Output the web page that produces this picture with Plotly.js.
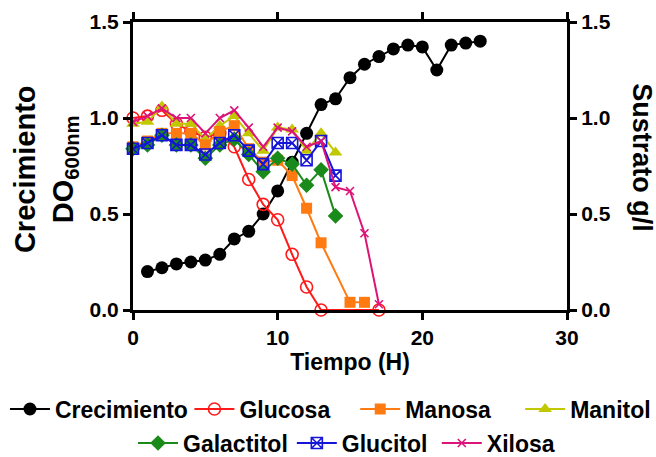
<!DOCTYPE html>
<html>
<head>
<meta charset="utf-8">
<script src="https://cdn.plot.ly/plotly-3.0.1.min.js"></script>
<style>html,body{margin:0;padding:0;background:#fff;}#chart{width:656px;height:457px;}</style>
</head>
<body>
<div id="chart"></div>
<script>
// ---- data ----
var growthX = [1,2,3,4,5,6,7,8,9,10,11,12,13,14,15,16,17,18,19,20,21,22,23,24];
var growthY = [0.20,0.22,0.24,0.25,0.26,0.29,0.37,0.41,0.50,0.62,0.77,0.92,1.07,1.10,1.21,1.28,1.32,1.36,1.38,1.37,1.25,1.38,1.39,1.40];

var glucosaX = [0,1,2,3,4,5,6,7,8,9,10,11,12,13,17];
var glucosaY = [1.00,1.01,1.04,0.97,0.93,0.90,0.92,0.85,0.68,0.55,0.47,0.29,0.12,0.00,0.00];

var manosaX = [0,1,2,3,4,5,6,7,8,9,10,11,12,13,15,16];
var manosaY = [0.85,0.88,0.92,0.92,0.92,0.86,0.93,0.96,0.84,0.77,0.78,0.70,0.53,0.35,0.04,0.04];

var manitolX = [0,1,2,3,4,5,6,7,8,9,10,11,12,13,14];
var manitolY = [0.97,0.98,1.06,0.97,0.97,0.89,0.96,1.01,0.92,0.83,0.95,0.94,0.83,0.92,0.82];

var galactitolX = [0,1,2,3,4,5,6,7,8,9,10,11,12,13,14];
var galactitolY = [0.84,0.86,0.91,0.86,0.86,0.79,0.86,0.89,0.81,0.72,0.79,0.76,0.65,0.73,0.49];

var glucitolX = [0,1,2,3,4,5,6,7,8,9,10,11,12,13,14];
var glucitolY = [0.84,0.87,0.91,0.86,0.86,0.81,0.87,0.91,0.83,0.76,0.87,0.87,0.78,0.88,0.70];

var xilosaX = [0,1,2,3,4,5,6,7,8,9,10,11,12,13,14,15,16,17];
var xilosaY = [0.98,1.01,1.05,1.00,1.00,0.92,1.00,1.04,0.95,0.85,0.95,0.93,0.85,0.88,0.64,0.62,0.40,0.03];

var xTicks = [0,10,20,30];
var yTicks = [0,0.5,1.0,1.5];
var yTickText = ['0.0','0.5','1.0','1.5'];

// ---- styling ----
var FONT = 'Liberation Sans, Arial, Helvetica, sans-serif';
var C = {
  crec: '#000000', glucosa: '#ff1a1a', manosa: '#ff7a10', manitol: '#c2c800',
  galactitol: '#1a8a1a', glucitol: '#1515d8', xilosa: '#dc1478'
};

function tr(name, x, y, color, symbol, size, legend, yaxis, lw) {
  return {
    type: 'scatter', mode: 'lines+markers', name: name, x: x, y: y,
    yaxis: yaxis, legend: legend, cliponaxis: false,
    line: {color: color, width: 2},
    marker: {symbol: symbol, size: size, color: color, line: {color: color, width: lw || 0}}
  };
}

var data = [
  tr('Glucosa', glucosaX, glucosaY, C.glucosa, 'circle-open', 12, 'legend2', 'y2', 1.6),
  tr('Manitol', manitolX, manitolY, C.manitol, 'triangle-up', 12, 'legend4', 'y2'),
  tr('Manosa', manosaX, manosaY, C.manosa, 'square', 11, 'legend3', 'y2'),
  tr('Galactitol', galactitolX, galactitolY, C.galactitol, 'diamond', 12, 'legend5', 'y2'),
  tr('Glucitol', glucitolX, glucitolY, C.glucitol, 'square-x-open', 11, 'legend6', 'y2', 1.6),
  tr('Xilosa', xilosaX, xilosaY, C.xilosa, 'x-thin-open', 8, 'legend7', 'y2', 1.6),
  tr('Crecimiento', growthX, growthY, C.crec, 'circle', 13, 'legend', 'y')
];

var legFont = {family: FONT, size: 23, color: '#000', weight: 'bold'};
function leg(x, y) {
  return {x: x, y: y, xanchor: 'left', yanchor: 'middle', orientation: 'h',
          font: legFont, bgcolor: 'rgba(0,0,0,0)', itemwidth: 40, borderwidth: 0};
}
var row1 = -0.344, row2 = -0.462;

var tickFont = {family: FONT, size: 21, color: '#000', weight: 'bold'};
var axisCommon = {
  showgrid: false, zeroline: false, showline: true, linecolor: '#000', linewidth: 3,
  ticks: 'outside', ticklen: 7, tickwidth: 3, tickcolor: '#000', tickfont: tickFont
};

var layout = {
  width: 656, height: 457,
  margin: {l: 133, r: 89, t: 22, b: 147, autoexpand: false},
  paper_bgcolor: '#fff', plot_bgcolor: '#fff',
  showlegend: true,
  xaxis: Object.assign({}, axisCommon, {
    range: [0, 30], tickmode: 'array', tickvals: xTicks, mirror: 'ticks',
    title: {text: 'Tiempo (H)', font: {family: FONT, size: 23, color: '#000', weight: 'bold'}, standoff: 6}
  }),
  yaxis: Object.assign({}, axisCommon, {
    range: [0, 1.5], tickmode: 'array', tickvals: yTicks, ticktext: yTickText
  }),
  yaxis2: Object.assign({}, axisCommon, {
    range: [0, 1.5], tickmode: 'array', tickvals: yTicks, ticktext: yTickText,
    overlaying: 'y', side: 'right'
  }),
  legend: leg(-0.295, row1),
  legend2: leg(0.130, row1),
  legend3: leg(0.512, row1),
  legend4: leg(0.892, row1),
  legend5: leg(0.0, row2),
  legend6: leg(0.366, row2),
  legend7: leg(0.700, row2),
  annotations: [
    {text: 'Crecimiento<br>DO<sub>600nm</sub>', xref: 'paper', yref: 'paper', x: -0.200, y: 0.49,
     xanchor: 'center', yanchor: 'middle', textangle: -90, showarrow: false,
     font: {family: FONT, size: 29, color: '#000', weight: 'bold'}},
    {text: 'Sustrato g/l', xref: 'paper', yref: 'paper', x: 1.172, y: 0.528,
     xanchor: 'center', yanchor: 'middle', textangle: 90, showarrow: false,
     font: {family: FONT, size: 27, color: '#000', weight: 'bold'}}
  ]
};

Plotly.newPlot('chart', data, layout, {displayModeBar: false, staticPlot: true});
</script>
</body>
</html>
